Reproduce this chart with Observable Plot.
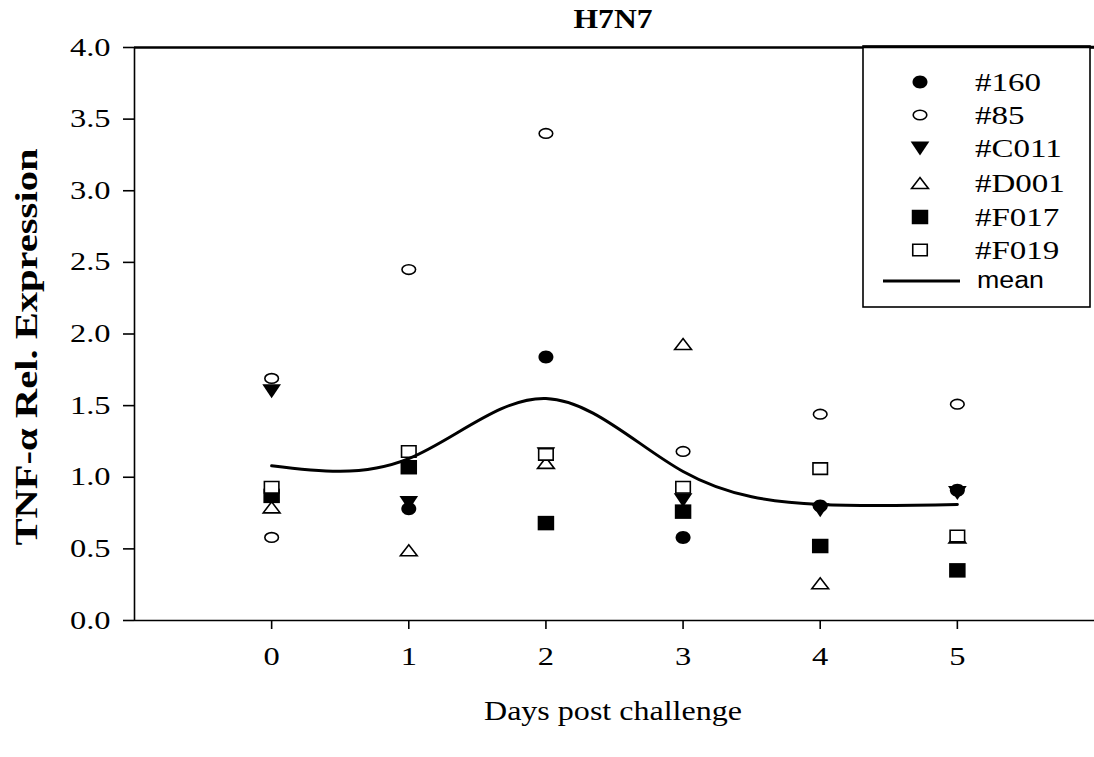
<!DOCTYPE html>
<html><head><meta charset="utf-8">
<script src="https://cdn.jsdelivr.net/npm/d3@7"></script>
<script src="https://cdn.jsdelivr.net/npm/@observablehq/plot@0.6"></script>
<style>body{margin:0;background:#fff} svg{display:block}</style>
</head><body><div id="chart"></div>
<script>
// ---- data ----
const days = [0, 1, 2, 3, 4, 5];
const seriesNames = ["#160", "#85", "#C011", "#D001", "#F017", "#F019"];
const s160  = [null, 0.78, 1.84, 0.58, 0.80, 0.91];
const s85   = [1.69, 2.45, 3.40, 1.18, 1.44, 1.51];
const s85extra = [0.58, null, null, null, null, null];
const sC011 = [1.60, 0.82, 1.16, 0.84, 0.77, 0.89];
const sD001 = [0.79, 0.49, 1.10, 1.93, 0.26, 0.58];
const sF017 = [0.87, 1.07, 0.68, 0.76, 0.52, 0.35];
const sF019 = [0.93, 1.18, 1.16, 0.93, 1.06, 0.59];
const meanValues = [1.08, 1.13, 1.55, 1.04, 0.81, 0.81];
const xTicks = [0, 1, 2, 3, 4, 5];
const yTicks = [0, 0.5, 1, 1.5, 2, 2.5, 3, 3.5, 4];
const title = "H7N7";
const xLabel = "Days post challenge";
const yLabel = "TNF-α Rel. Expression";
const meanLabel = "mean";

// ---- custom marker shapes ----
function ellipse(rx, ry) {
  const k = 0.5523;
  return {draw(c) {
    c.moveTo(rx, 0);
    c.bezierCurveTo(rx, k*ry, k*rx, ry, 0, ry);
    c.bezierCurveTo(-k*rx, ry, -rx, k*ry, -rx, 0);
    c.bezierCurveTo(-rx, -k*ry, -k*rx, -ry, 0, -ry);
    c.bezierCurveTo(k*rx, -ry, rx, -k*ry, rx, 0);
    c.closePath();
  }};
}
function rect(w, h) { return {draw(c) { c.moveTo(-w/2,-h/2); c.lineTo(w/2,-h/2); c.lineTo(w/2,h/2); c.lineTo(-w/2,h/2); c.closePath(); }}; }
function triDown(w, h) { return {draw(c) { c.moveTo(-w/2,-h/2); c.lineTo(w/2,-h/2); c.lineTo(0,h/2); c.closePath(); }}; }
function triUp(w, h) { return {draw(c) { c.moveTo(-w/2,h/2); c.lineTo(w/2,h/2); c.lineTo(0,-h/2); c.closePath(); }}; }

const filled = {fill: "black", stroke: "none"};
const open = {fill: "white", stroke: "black", strokeWidth: 1.6};
const styles = [
  {symbol: ellipse(7.5, 6.5), ...filled},
  {symbol: ellipse(6.8, 4.8), ...open},
  {symbol: triDown(18.7, 14), ...filled},
  {symbol: triUp(16.8, 11), ...open},
  {symbol: rect(16.5, 14.5), ...filled},
  {symbol: rect(14.5, 11.5), ...open}
];
const seriesValues = [s160, s85, sC011, sD001, sF017, sF019];

const rows = vals => days.map((d, i) => ({day: d, value: vals[i]})).filter(r => r.value != null);

const dotMarks = [];
seriesValues.forEach((vals, k) => {
  dotMarks.push(Plot.dot(rows(vals), {x: "day", y: "value", ...styles[k]}));
  if (k === 1) dotMarks.push(Plot.dot(rows(s85extra), {x: "day", y: "value", ...styles[1]}));
});

const chart = Plot.plot({
  width: 1094, height: 757,
  marginLeft: 134, marginRight: 0, marginTop: 47, marginBottom: 137,
  style: {fontFamily: "Liberation Serif, Times New Roman, serif", fontSize: "25px", color: "black", background: "white"},
  x: {domain: [-1, 6]},
  y: {domain: [0, 4]},
  marks: [
    Plot.ruleY([4], {stroke: "black", strokeWidth: 2.5}),
    Plot.ruleX([-1], {stroke: "black", strokeWidth: 1.6}),
    Plot.ruleY([0], {stroke: "black", strokeWidth: 1.6}),
    Plot.axisX({ticks: xTicks, tickSize: 9, tickPadding: 18, tickFormat: d => String(d), label: null, strokeWidth: 1.6}),
    Plot.axisY({ticks: yTicks, tickSize: 11, tickPadding: 13, tickFormat: d3.format(".1f"), label: null, strokeWidth: 1.6}),
    ...dotMarks,
    Plot.line(days.map((d, i) => ({day: d, value: meanValues[i]})), {x: "day", y: "value", curve: "natural", stroke: "black", strokeWidth: 3})
  ]
});
document.getElementById("chart").append(chart);

const svg = d3.select(chart);
// widen tick labels to match the reference's wide glyphs
svg.selectAll('g[aria-label$="tick label"] text').each(function() {
  const len = this.getComputedTextLength();
  d3.select(this).attr("textLength", len * 1.3).attr("lengthAdjust", "spacingAndGlyphs");
});

const serif = "Liberation Serif, Times New Roman, serif";
svg.append("text").text(title)
  .attr("x", 613).attr("y", 28).attr("text-anchor", "middle")
  .attr("font-family", serif).attr("font-weight", "bold").attr("font-size", 27)
  .attr("textLength", 79).attr("lengthAdjust", "spacingAndGlyphs");
svg.append("text").text(xLabel)
  .attr("x", 613).attr("y", 720).attr("text-anchor", "middle")
  .attr("font-family", serif).attr("font-size", 27)
  .attr("textLength", 258).attr("lengthAdjust", "spacingAndGlyphs");
svg.append("text").text(yLabel)
  .attr("transform", "translate(37,347) rotate(-90)").attr("text-anchor", "middle")
  .attr("font-family", serif).attr("font-weight", "bold").attr("font-size", 31)
  .attr("textLength", 397).attr("lengthAdjust", "spacingAndGlyphs");

// legend
const lg = svg.append("g").attr("text-anchor", "start");
lg.append("rect").attr("x", 863).attr("y", 46).attr("width", 227).attr("height", 261)
  .attr("fill", "white").attr("stroke", "black").attr("stroke-width", 1.6);
lg.append("line").attr("x1", 863).attr("x2", 1094).attr("y1", 47).attr("y2", 47).attr("stroke", "black").attr("stroke-width", 2.5);
const rowY = [82, 115, 148.5, 183, 217, 250];
seriesNames.forEach((name, k) => {
  const p = d3.path(); styles[k].symbol.draw(p, 0);
  const st = styles[k];
  lg.append("path").attr("d", p.toString()).attr("transform", `translate(920,${rowY[k]})`)
    .attr("fill", st.fill).attr("stroke", st.stroke).attr("stroke-width", st.strokeWidth || 0);
  const t = lg.append("text").text(name).attr("x", 975).attr("y", rowY[k] + 8.5)
    .attr("text-anchor", "start")
    .attr("font-family", serif).attr("font-size", 25);
  const len = t.node().getComputedTextLength();
  t.attr("textLength", len * 1.32).attr("lengthAdjust", "spacingAndGlyphs");
});
lg.append("line").attr("x1", 883).attr("x2", 960).attr("y1", 281).attr("y2", 281).attr("stroke", "black").attr("stroke-width", 3);
lg.append("text").text(meanLabel).attr("x", 977).attr("y", 288).attr("text-anchor", "start")
  .attr("font-family", "Liberation Sans, Arial, sans-serif").attr("font-size", 23)
  .attr("textLength", 67).attr("lengthAdjust", "spacingAndGlyphs");
</script>
</body></html>
